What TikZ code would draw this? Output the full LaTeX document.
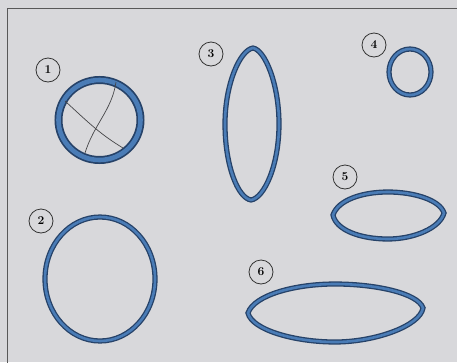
\documentclass[tikz,border=0pt]{standalone}
\usepackage{tikz}
\usetikzlibrary{positioning}
\usepackage{xcolor}
\definecolor{paper}{RGB}{216,216,219}
\definecolor{inkdark}{RGB}{38,66,104}
\definecolor{inkblue}{RGB}{74,124,182}
\definecolor{pencil}{RGB}{70,70,72}

\begin{document}
\begin{tikzpicture}[
  x=1pt, y=-1pt,
  num/.style={draw=black!80, circle, line width=0.8pt, minimum size=24pt, inner sep=0pt, font=\bfseries\large},
  ring/.style={draw=inkdark, line width=1.3pt, double=inkblue, double distance=2.6pt},
  thickring/.style={ring, line width=1.7pt, double distance=4.6pt},
  chord/.style={draw=pencil, line width=0.7pt}
]
\fill[paper] (0,0) rectangle (457,362);
\useasboundingbox (0,0) rectangle (457,362);
\begin{scope}
\clip (0,0) rectangle (457,362);
\draw[black!65, line width=1pt] (7,8) rectangle (480,390);
\end{scope}

% labels
\node[num] (n1) at (48,70) {1};
\node[num] (n2) at (41,221) {2};
\node[num] (n3) at (211,54) {3};
\node[num] (n4) at (374,45) {4};
\node[num] (n5) at (345,177) {5};
\node[num] (n6) at (261,272) {6};

% 1 with cuts
\draw[thickring] (99.5,120) ellipse (41 and 40);
\draw[chord] (65,101) .. controls (90,124) and (100,134) .. (123,148);
\draw[chord] (116,82) .. controls (112,110) and (94,124) .. (85,153);

% 2
\draw[ring] (100,279) ellipse (55 and 62);

% 3
\draw[ring] (253,48) .. controls (265,50) and (279,84) .. (279,124)
  .. controls (279,166) and (264,198) .. (251,200)
  .. controls (238,198) and (225,166) .. (225,124)
  .. controls (225,84) and (240,50) .. cycle;

% 4
\draw[ring] (410,72) ellipse (21 and 23);

% 5
\draw[ring] (333,215) .. controls (338,200) and (362,192) .. (388,192)
  .. controls (414,192) and (440,200) .. (444,213)
  .. controls (440,228) and (414,239) .. (388,239)
  .. controls (360,239) and (336,230) .. cycle;

% 6
\draw[ring] (248,313) .. controls (254,295) and (295,284) .. (335,284)
  .. controls (375,284) and (418,293) .. (423,308)
  .. controls (420,326) and (375,342) .. (335,342)
  .. controls (295,342) and (252,330) .. cycle;
\end{tikzpicture}
\end{document}
